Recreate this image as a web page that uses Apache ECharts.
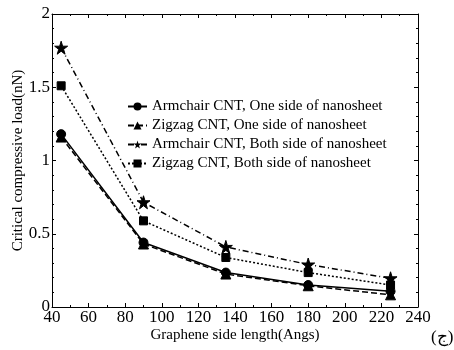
<!DOCTYPE html>
<html><head><meta charset="utf-8">
<script src="https://cdn.jsdelivr.net/npm/echarts@6/dist/echarts.min.js"></script>
<style>html,body{margin:0;padding:0;background:#fff}#c{width:454px;height:350px}</style>
</head><body><div id="c"></div>
<script>
const xValues = [45, 90, 135, 180, 225];
const armchairOne = [1.18, 0.44, 0.235, 0.15, 0.107];
const zigzagOne = [1.16, 0.43, 0.225, 0.145, 0.083];
const armchairBoth = [1.77, 0.715, 0.41, 0.29, 0.196];
const zigzagBoth = [1.51, 0.588, 0.338, 0.235, 0.15];
const seriesNames = ['Armchair CNT, One side of nanosheet','Zigzag CNT, One side of nanosheet','Armchair CNT, Both side of nanosheet','Zigzag CNT, Both side of nanosheet'];
const xLabel = 'Graphene side length(Angs)';
const yLabel = 'Critical compressive load(nN)';

const font = 'Liberation Serif';
const star = 'path://M50,0 L61,35 L98,35 L68,57 L79,91 L50,70 L21,91 L32,57 L2,35 L39,35 Z';
function pairs(arr){ return xValues.map((x,i)=>[x,arr[i]]); }
const styles = [
  {sym:'circle', size:9, type:'solid'},
  {sym:'triangle', size:10, type:[6,3]},
  {sym:star, size:13, type:[6,3,1,3]},
  {sym:'rect', size:8, type:[2,2]}
];
const datas = [armchairOne, zigzagOne, armchairBoth, zigzagBoth];
const chart = echarts.init(document.getElementById('c'));
const axisCommon = {
  axisLine:{show:true,onZero:false,lineStyle:{color:'#000',width:1}},
  axisTick:{show:true,inside:true,length:4,lineStyle:{color:'#000'}},
  splitLine:{show:false}
};
chart.setOption({
  animation:false,
  backgroundColor:'#fff',
  grid:{left:52,right:36,top:14,bottom:43,containLabel:false,outerBoundsMode:'none'},
  legend:{
    orient:'vertical', left:127, top:99, padding:0, itemGap:4, itemWidth:19, itemHeight:10,
    textStyle:{fontFamily:font,fontSize:15,color:'#000'},
    data:seriesNames
  },
  xAxis:[
    Object.assign({type:'value',min:40,max:240,interval:20,position:'bottom',
      axisLabel:{fontFamily:font,fontSize:17,color:'#000',margin:2},
      name:xLabel,nameLocation:'middle',nameGap:21,nameMoveOverlap:false,
      nameTextStyle:{fontFamily:font,fontSize:15,color:'#000'}}, axisCommon,
      {minorTick:{show:true,splitNumber:2,length:2,lineStyle:{color:'#000'}}}),
    Object.assign({type:'value',min:40,max:240,interval:20,position:'top',
      axisLabel:{show:false}}, axisCommon,
      {minorTick:{show:true,splitNumber:2,length:2,lineStyle:{color:'#000'}}})
  ],
  yAxis:[
    Object.assign({type:'value',min:0,max:2,interval:0.5,position:'left',
      axisLabel:{fontFamily:font,fontSize:17,color:'#000',margin:2},
      name:yLabel,nameLocation:'middle',nameGap:26,nameMoveOverlap:false,
      nameTextStyle:{fontFamily:font,fontSize:15,color:'#000'}}, axisCommon,
      {minorTick:{show:true,splitNumber:5,length:2,lineStyle:{color:'#000'}}}),
    Object.assign({type:'value',min:0,max:2,interval:0.5,position:'right',
      axisLabel:{show:false}}, axisCommon,
      {minorTick:{show:true,splitNumber:5,length:2,lineStyle:{color:'#000'}}})
  ],
  graphic:[{type:'text',left:431,top:329,style:{text:'(ج)',font:'17px "Liberation Serif"',fill:'#000'}}],
  series: datas.map((d,i)=>({
    name:seriesNames[i], type:'line', data:pairs(d),
    symbol:styles[i].sym, symbolSize:styles[i].size, showSymbol:true,
    xAxisIndex:0, yAxisIndex:0,
    lineStyle:{color:'#000',width:1.5,type:styles[i].type},
    itemStyle:{color:'#000',borderColor:'#000'}
  }))
});
</script></body></html>
